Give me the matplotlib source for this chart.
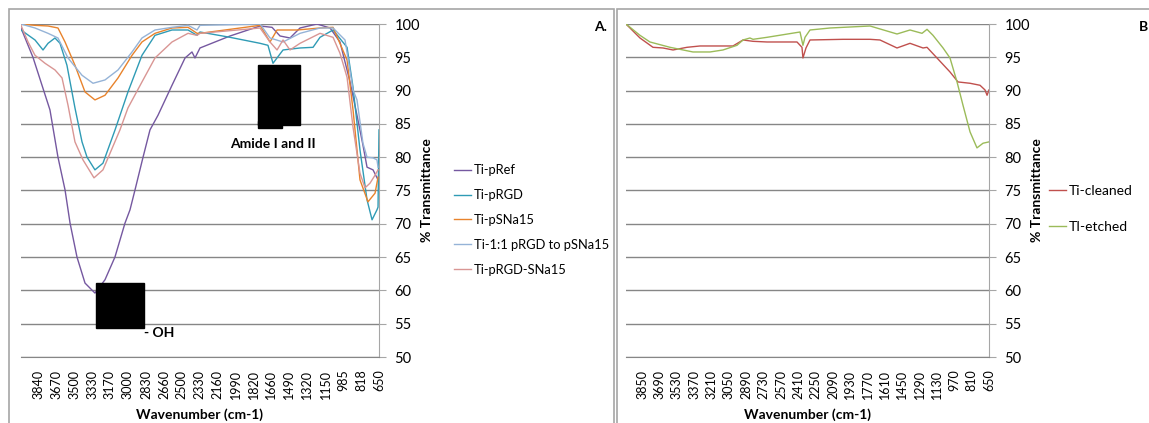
import numpy as np
import matplotlib
matplotlib.use("Agg")
import matplotlib.pyplot as plt
from matplotlib.patches import Rectangle

plt.rcParams['font.family'] = ['Lato', 'DejaVu Sans']

# ---- panel A data (wavenumber, % transmittance) ----
pref_wn = [4000, 3888, 3729, 3654, 3588, 3541, 3476, 3401, 3308, 3214, 3121, 3027, 2980, 2933,
           2858, 2793, 2718, 2587, 2465, 2400, 2372, 2325, 2044, 1763, 1651, 1576, 1483, 1389,
           1230, 1108, 1015, 921, 856, 800, 762, 706, 659]
pref_t = [99.4, 95.0, 87.1, 80.0, 75.1, 70.1, 65.0, 61.1, 59.6, 61.6, 65.0, 70.1, 72.1, 75.1,
          80.0, 84.1, 86.3, 90.8, 94.9, 95.8, 94.9, 96.4, 98.2, 99.7, 99.5, 98.2, 97.9, 99.4,
          100.0, 99.4, 97.3, 91.3, 86.3, 81.8, 78.5, 78.1, 76.6]

prgd_wn = [4000, 3869, 3794, 3747, 3682, 3635, 3570, 3495, 3429, 3382, 3308, 3233, 3120, 2999,
           2868, 2746, 2587, 2437, 2353, 2325, 2044, 1763, 1689, 1642, 1548, 1389, 1267, 1202,
           1080, 949, 893, 828, 762, 715, 669, 659, 650]
prgd_t = [99.1, 97.6, 96.1, 97.1, 97.9, 97.1, 93.8, 87.4, 82.3, 80.0, 78.1, 79.1, 84.1, 89.8,
          95.3, 98.3, 99.1, 99.1, 98.3, 98.8, 98.0, 97.1, 96.8, 94.1, 96.1, 96.4, 96.5, 98.0,
          99.1, 96.5, 90.5, 81.1, 73.6, 70.6, 72.1, 72.5, 84.1]

psna_wn = [4000, 3869, 3747, 3654, 3588, 3495, 3401, 3308, 3214, 3092, 2961, 2868, 2746, 2587,
           2437, 2353, 2325, 1763, 1670, 1604, 1417, 1202, 1080, 949, 893, 828, 753, 687, 659]
psna_t = [100.0, 99.8, 99.7, 99.4, 97.3, 93.8, 89.8, 88.6, 89.3, 91.9, 95.3, 97.3, 98.6, 99.4,
          99.5, 98.6, 98.6, 99.8, 97.3, 99.1, 99.1, 99.4, 99.5, 94.6, 87.1, 76.6, 73.3, 74.6, 77.0]

mix_wn = [4000, 3869, 3747, 3654, 3560, 3429, 3326, 3214, 3092, 2961, 2868, 2746, 2587, 2437,
          2353, 2325, 1763, 1670, 1548, 1389, 1202, 1080, 968, 893, 856, 800, 762, 706, 669, 659]
mix_t = [100.0, 99.4, 98.6, 97.9, 94.9, 92.3, 91.1, 91.6, 93.1, 95.8, 97.9, 99.1, 99.5, 99.8,
         99.1, 99.8, 100.0, 97.9, 97.3, 98.6, 99.4, 99.4, 97.6, 90.1, 88.6, 82.1, 80.0, 79.9, 79.6, 78.5]

rgdsna_wn = [4000, 3934, 3869, 3775, 3682, 3616, 3560, 3495, 3420, 3317, 3233, 3074, 2999, 2868,
             2746, 2587, 2437, 2353, 2325, 1763, 1670, 1604, 1548, 1483, 1389, 1202, 1080, 1015,
             949, 893, 828, 781, 734, 687, 659]
rgdsna_t = [99.8, 97.3, 95.3, 94.1, 93.1, 91.9, 87.8, 82.3, 79.6, 76.9, 78.1, 84.1, 87.4, 91.3,
            94.9, 97.3, 98.6, 98.3, 98.6, 99.4, 97.3, 96.1, 97.6, 96.1, 97.1, 98.6, 98.0, 95.6,
            92.0, 84.5, 77.6, 75.4, 76.1, 77.3, 78.1]

# ---- panel B data ----
clean_wn = [4000, 3871, 3751, 3659, 3566, 3437, 3317, 3013, 2920, 2828, 2699, 2422, 2376, 2367,
            2339, 2302, 1997, 1748, 1656, 1499, 1379, 1259, 1222, 1130, 1010, 936, 825, 733,
            687, 668, 650]
clean_t = [100.0, 97.9, 96.5, 96.4, 96.1, 96.5, 96.7, 96.7, 97.6, 97.4, 97.3, 97.3, 96.5, 94.9,
           96.4, 97.6, 97.7, 97.7, 97.6, 96.4, 97.1, 96.4, 96.5, 94.9, 92.8, 91.3, 91.1, 90.8,
           90.1, 89.3, 90.1]

etch_wn = [4000, 3871, 3779, 3594, 3382, 3225, 3105, 2976, 2920, 2856, 2828, 2699, 2394, 2367,
           2348, 2302, 2117, 1748, 1499, 1379, 1268, 1222, 1167, 1074, 1010, 945, 890, 825,
           761, 705, 650]
etch_t = [100.0, 98.3, 97.3, 96.5, 95.8, 95.8, 96.1, 96.8, 97.6, 97.9, 97.7, 98.0, 98.8, 96.8,
          98.0, 99.1, 99.4, 99.7, 98.5, 99.1, 98.6, 99.2, 98.3, 96.4, 94.9, 91.3, 87.8, 83.8,
          81.4, 82.1, 82.3]

ticks_a = ['3840', '3670', '3500', '3330', '3170', '3000', '2830', '2660', '2500', '2330',
           '2160', '1990', '1820', '1660', '1490', '1320', '1150', '985', '818', '650']
ticks_b = ['3850', '3690', '3530', '3370', '3210', '3050', '2890', '2730', '2570', '2410',
           '2250', '2090', '1930', '1770', '1610', '1450', '1290', '1130', '970', '810', '650']

W, H = 1149, 423
fig = plt.figure(figsize=(W / 100, H / 100), dpi=100)

# chart area borders
fig.add_artist(Rectangle((9 / W, -0.05), 605 / W, 1.05 - 9 / H, transform=fig.transFigure,
                         fill=False, ec='#a6a6a6', lw=1.2))
fig.add_artist(Rectangle((617 / W, -0.05), 600 / W, 1.05 - 9 / H, transform=fig.transFigure,
                         fill=False, ec='#a6a6a6', lw=1.2))


def px_axes(x0, x1, y0=24, y1=357):
    return fig.add_axes([x0 / W, 1 - y1 / H, (x1 - x0) / W, (y1 - y0) / H])


def style(ax, ticks):
    ax.set_xlim(4000, 650)
    ax.set_ylim(50, 100)
    ax.set_yticks(range(50, 101, 5))
    ax.yaxis.tick_right()
    ax.grid(axis='y', color='#868686', lw=1)
    ax.set_axisbelow(True)
    for s in ['left', 'top']:
        ax.spines[s].set_visible(False)
    ax.spines['right'].set_color('#a6a6a6')
    ax.spines['bottom'].set_color('#868686')
    ax.set_xticks([float(t) for t in ticks])
    ax.set_xticklabels(ticks, rotation=90, fontsize=9)
    ax.tick_params(axis='x', length=0, pad=9)
    ax.tick_params(axis='y', length=5, color='#a6a6a6', labelsize=10.5, pad=6)
    ax.set_xlabel('Wavenumber (cm-1)', fontsize=10, fontweight='bold')
    ax.xaxis.set_label_coords(0.5, -0.155)


axA = px_axes(21, 379)
style(axA, ticks_a)
lw = 1.0
axA.plot(pref_wn, pref_t, color='#7558a0', lw=lw, label='Ti-pRef')
axA.plot(prgd_wn, prgd_t, color='#2f9bb5', lw=lw, label='Ti-pRGD')
axA.plot(psna_wn, psna_t, color='#e8832c', lw=lw, label='Ti-pSNa15')
axA.plot(mix_wn, mix_t, color='#95b3d7', lw=lw, label='Ti-1:1 pRGD to pSNa15')
axA.plot(rgdsna_wn, rgdsna_t, color='#d99694', lw=lw, label='Ti-pRGD-SNa15')

# annotation boxes
axA.add_patch(Rectangle((1782, 84.8), 1389 - 1782, 93.8 - 84.8, color='black', zorder=5))
axA.add_patch(Rectangle((1782, 84.4), 1557 - 1782, 1.0, color='black', zorder=5))
axA.add_patch(Rectangle((3298, 54.4), 2849 - 3298, 61.1 - 54.4, color='black', zorder=5))
axA.text(1640, 82.0, 'Amide I and II', ha='center', va='center', fontsize=10, fontweight='bold')
axA.text(2849, 53.6, '- OH', ha='left', va='center', fontsize=10, fontweight='bold')

axA.legend(loc='center left', bbox_to_anchor=(448 / W, 1 - 220 / H), bbox_transform=fig.transFigure,
           frameon=False, fontsize=9.3, handlelength=1.3, handletextpad=0.2, labelspacing=1.0,
           borderpad=0)
fig.text(427 / W, 1 - 190 / H, '% Transmittance', rotation=90, ha='center', va='center',
         fontsize=10, fontweight='bold')
fig.text(607 / W, 1 - 27 / H, 'A.', ha='right', va='center', fontsize=10, fontweight='bold')

axB = px_axes(626, 989)
style(axB, ticks_b)
axB.plot(clean_wn, clean_t, color='#c0504d', lw=lw, label='Ti-cleaned')
axB.plot(etch_wn, etch_t, color='#9bbb59', lw=lw, label='TI-etched')
axB.legend(loc='center left', bbox_to_anchor=(1042 / W, 1 - 209 / H), bbox_transform=fig.transFigure,
           frameon=False, fontsize=10, handlelength=1.2, handletextpad=0.2, labelspacing=1.7,
           borderpad=0)
fig.text(1037 / W, 1 - 190 / H, '% Transmittance', rotation=90, ha='center', va='center',
         fontsize=10, fontweight='bold')
fig.text(1148 / W, 1 - 27 / H, 'B', ha='right', va='center', fontsize=10, fontweight='bold')

fig.savefig('out.png', dpi=100)
